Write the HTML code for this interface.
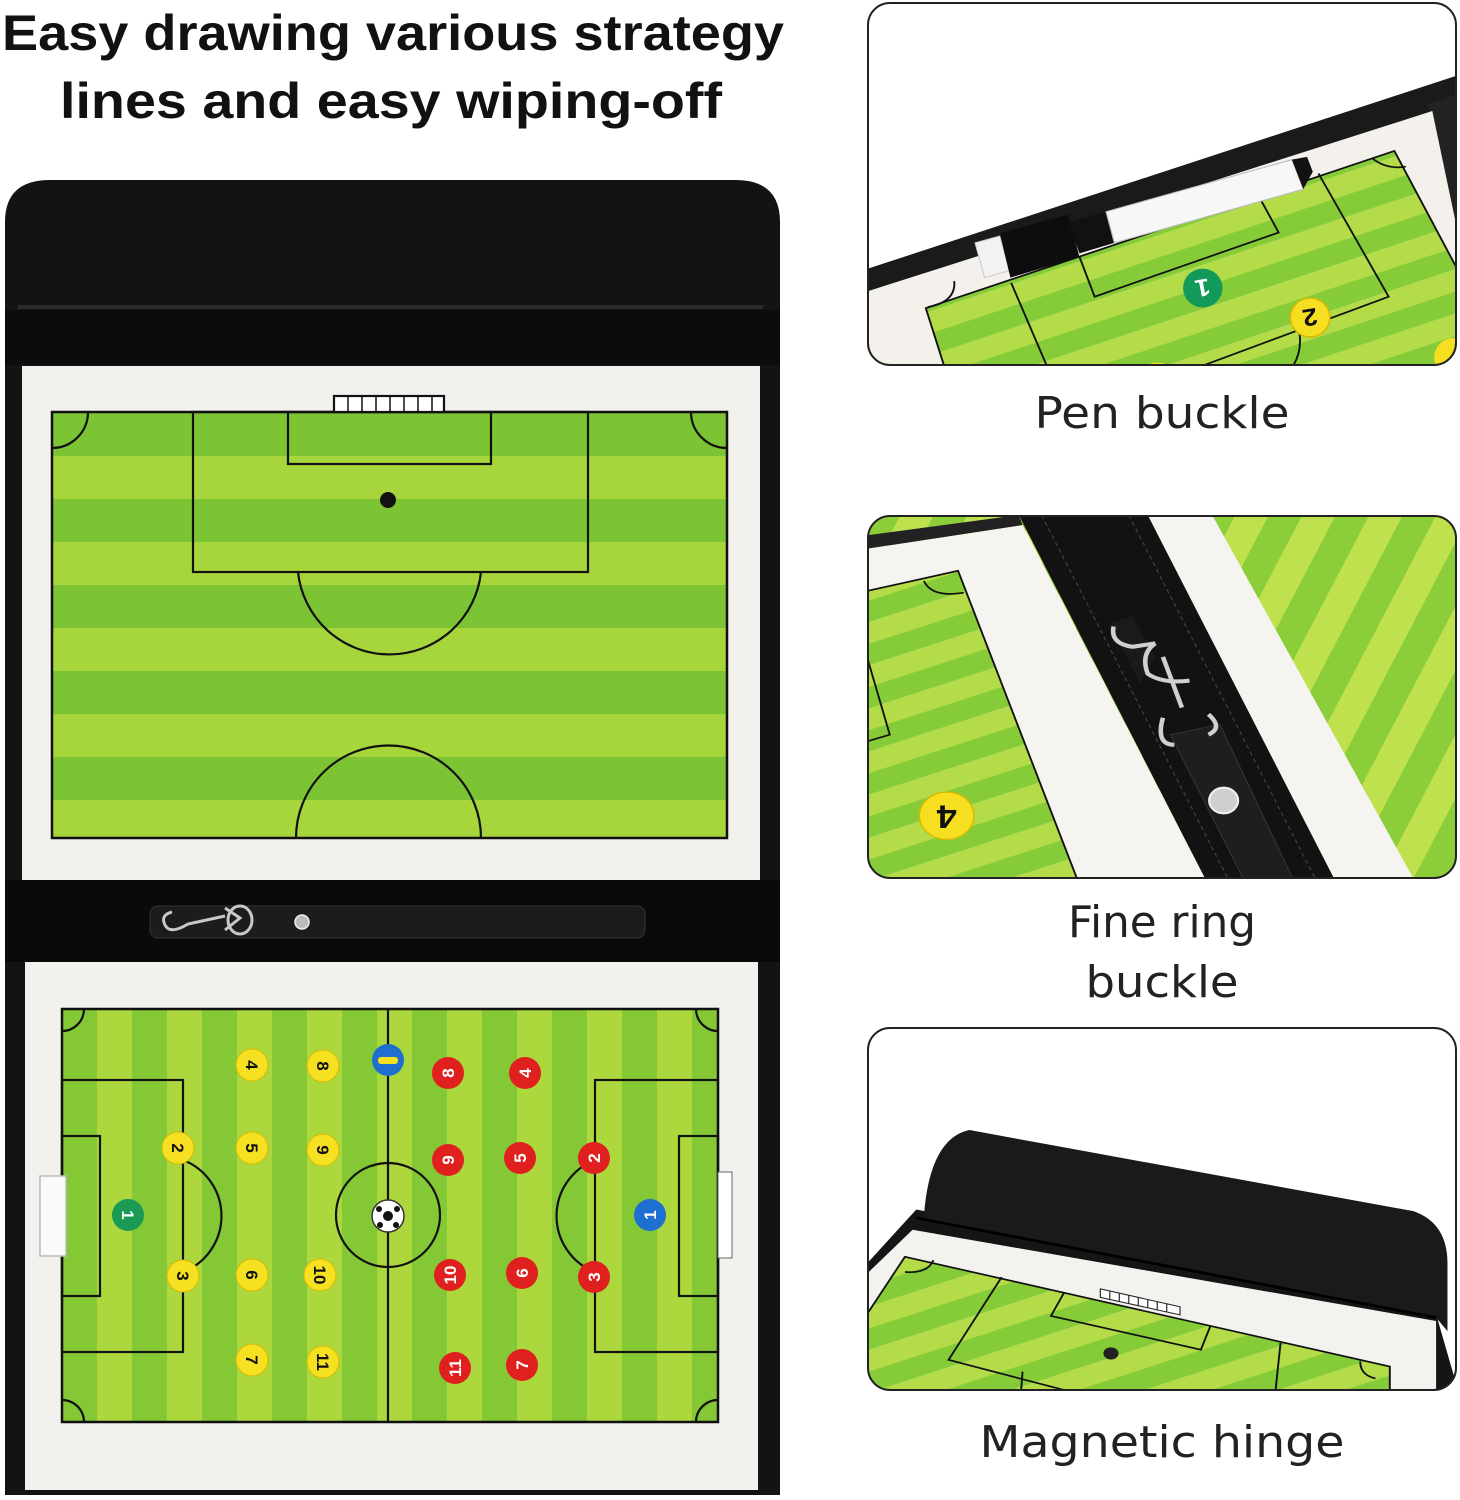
<!DOCTYPE html>
<html><head><meta charset="utf-8"><style>
html,body{margin:0;padding:0;background:#fff;}
svg{display:block;}
</style></head><body>
<svg width="1460" height="1500" viewBox="0 0 1460 1500" xmlns="http://www.w3.org/2000/svg">
<defs>
  <pattern id="hstr" x="0" y="413" width="10" height="86" patternUnits="userSpaceOnUse">
    <rect width="10" height="43" fill="#7cc434"/><rect y="43" width="10" height="43" fill="#a6d53c"/>
  </pattern>
  <pattern id="vstr" x="62" y="0" width="70" height="10" patternUnits="userSpaceOnUse">
    <rect width="35" height="10" fill="#84c935"/><rect x="35" width="35" height="10" fill="#acd83e"/>
  </pattern>
  <pattern id="dstr" x="0" y="0" width="120" height="120" patternUnits="userSpaceOnUse" patternTransform="rotate(-20)">
    <rect width="120" height="60" fill="#86cc38"/><rect y="60" width="120" height="60" fill="#b4dc48"/>
  </pattern>
  <pattern id="dstr2" x="0" y="0" width="160" height="160" patternUnits="userSpaceOnUse" patternTransform="rotate(-65)">
    <rect width="160" height="80" fill="#8ccd3a"/><rect y="80" width="160" height="80" fill="#bfe14e"/>
  </pattern>
  <clipPath id="c1"><rect x="868" y="3" width="588" height="362" rx="22"/></clipPath>
  <clipPath id="c2"><rect x="868" y="516" width="588" height="362" rx="22"/></clipPath>
  <clipPath id="c3"><rect x="868" y="1028" width="588" height="362" rx="22"/></clipPath>
</defs>

<!-- Title -->
<g font-family="Liberation Sans, sans-serif" font-weight="bold" fill="#111" font-size="50">
  <text x="2" y="50" textLength="782" lengthAdjust="spacingAndGlyphs">Easy drawing various strategy</text>
  <text x="60" y="118" textLength="662" lengthAdjust="spacingAndGlyphs">lines and easy wiping-off</text>
</g>

<!-- Folder -->
<path d="M5 1495 V222 Q5 180 50 180 H735 Q780 180 780 222 V1495 Z" fill="#131313"/>
<rect x="18" y="305" width="745" height="4" fill="#2a2a2a"/>
<rect x="5" y="310" width="775" height="55" fill="#0c0c0c"/>
<!-- Top board -->
<rect x="22" y="366" width="738" height="514" fill="#f3f1ee"/>
<rect x="52" y="412" width="675" height="426" fill="url(#hstr)" stroke="#111" stroke-width="2.5"/>
<g fill="none" stroke="#111" stroke-width="2.2">
  <rect x="193" y="412" width="395" height="160"/>
  <rect x="288" y="412" width="203" height="52"/>
  <path d="M298 572 A92 92 0 0 0 481 572"/>
  <path d="M296 838 A92 92 0 0 1 481 838"/>
  <path d="M52 448 A36 36 0 0 0 88 412"/>
  <path d="M727 448 A36 36 0 0 1 691 412"/>
  <rect x="334" y="396" width="110" height="16" fill="#fff"/>
  <path d="M348 396V412M362 396V412M376 396V412M390 396V412M404 396V412M418 396V412M432 396V412" stroke-width="1.5"/>
</g>
<circle cx="388" cy="500" r="8" fill="#111"/>

<!-- Middle band with strap -->
<rect x="5" y="880" width="775" height="82" fill="#0a0a0a"/>
<rect x="150" y="906" width="495" height="32" rx="8" fill="#1c1c1c" stroke="#333" stroke-width="1"/>
<g fill="none" stroke="#c8c8c8" stroke-width="3">
  <path d="M172 912 Q160 915 165 925 Q170 935 188 924 L225 916"/>
  <path d="M225 908 L240 918 L225 930"/>
  <ellipse cx="240" cy="920" rx="12" ry="14"/>
</g>
<circle cx="302" cy="922" r="7" fill="#bbb" stroke="#eee" stroke-width="1.5"/>

<!-- Lower board -->
<rect x="25" y="962" width="733" height="528" fill="#f3f1ee"/>
<rect x="62" y="1009" width="656" height="413" fill="url(#vstr)" stroke="#111" stroke-width="2.5"/>
<g fill="none" stroke="#111" stroke-width="2.2">
  <line x1="388" y1="1009" x2="388" y2="1422"/>
  <circle cx="388" cy="1215" r="52"/>
  <rect x="62" y="1080" width="121" height="272"/>
  <rect x="62" y="1136" width="38" height="160"/>
  <path d="M183 1160 A60 60 0 0 1 183 1272"/>
  <rect x="595" y="1080" width="123" height="272"/>
  <rect x="679" y="1136" width="39" height="160"/>
  <path d="M595 1160 A60 60 0 0 0 595 1272"/>
  <path d="M62 1031 A22 22 0 0 0 84 1009"/>
  <path d="M718 1031 A22 22 0 0 1 696 1009"/>
  <path d="M62 1400 A22 22 0 0 1 84 1422"/>
  <path d="M718 1400 A22 22 0 0 0 696 1422"/>
</g>
<rect x="40" y="1176" width="26" height="80" fill="#fafafa" stroke="#bbb" stroke-width="1.5"/>
<rect x="718" y="1172" width="14" height="86" fill="#fff" stroke="#666" stroke-width="1"/>

<!-- players -->
<g font-family="Liberation Sans, sans-serif" font-weight="bold" font-size="17" text-anchor="middle">
  <g fill="#f6e022" stroke="#d7b800" stroke-width="1">
    <circle cx="252" cy="1065" r="16"/><circle cx="323" cy="1066" r="16"/>
    <circle cx="178" cy="1148" r="16"/><circle cx="252" cy="1148" r="16"/><circle cx="323" cy="1150" r="16"/>
    <circle cx="183" cy="1276" r="16"/><circle cx="252" cy="1275" r="16"/><circle cx="320" cy="1275" r="16"/>
    <circle cx="252" cy="1360" r="16"/><circle cx="323" cy="1362" r="16"/>
  </g>
  <g fill="#111">
    <text transform="translate(252,1065) rotate(90)" y="6">4</text>
    <text transform="translate(323,1066) rotate(90)" y="6">8</text>
    <text transform="translate(178,1148) rotate(90)" y="6">2</text>
    <text transform="translate(252,1148) rotate(90)" y="6">5</text>
    <text transform="translate(323,1150) rotate(90)" y="6">9</text>
    <text transform="translate(183,1276) rotate(90)" y="6">3</text>
    <text transform="translate(252,1275) rotate(90)" y="6">6</text>
    <text transform="translate(320,1275) rotate(90)" y="6">10</text>
    <text transform="translate(252,1360) rotate(90)" y="6">7</text>
    <text transform="translate(323,1362) rotate(90)" y="6">11</text>
  </g>
  <g fill="#e0201e">
    <circle cx="448" cy="1073" r="16"/><circle cx="525" cy="1073" r="16"/>
    <circle cx="448" cy="1160" r="16"/><circle cx="520" cy="1158" r="16"/><circle cx="594" cy="1158" r="16"/>
    <circle cx="450" cy="1275" r="16"/><circle cx="522" cy="1273" r="16"/><circle cx="594" cy="1277" r="16"/>
    <circle cx="455" cy="1368" r="16"/><circle cx="522" cy="1365" r="16"/>
  </g>
  <g fill="#fff">
    <text transform="translate(448,1073) rotate(-90)" y="6">8</text>
    <text transform="translate(525,1073) rotate(-90)" y="6">4</text>
    <text transform="translate(448,1160) rotate(-90)" y="6">9</text>
    <text transform="translate(520,1158) rotate(-90)" y="6">5</text>
    <text transform="translate(594,1158) rotate(-90)" y="6">2</text>
    <text transform="translate(450,1275) rotate(-90)" y="6">10</text>
    <text transform="translate(522,1273) rotate(-90)" y="6">6</text>
    <text transform="translate(594,1277) rotate(-90)" y="6">3</text>
    <text transform="translate(455,1368) rotate(-90)" y="6">11</text>
    <text transform="translate(522,1365) rotate(-90)" y="6">7</text>
  </g>
  <circle cx="388" cy="1060" r="16" fill="#1f6fd0"/>
  <rect x="378" y="1057" width="20" height="7" rx="3" fill="#f6e022"/>
  <circle cx="650" cy="1215" r="16" fill="#1f6fd0"/>
  <text transform="translate(650,1215) rotate(-90)" y="6" fill="#fff">1</text>
  <circle cx="128" cy="1215" r="16" fill="#1a9a55"/>
  <text transform="translate(128,1215) rotate(90)" y="6" fill="#fff">1</text>
  <circle cx="388" cy="1216" r="16" fill="#fff" stroke="#333" stroke-width="1.5"/>
  <circle cx="388" cy="1216" r="5" fill="#111"/>
  <circle cx="379" cy="1209" r="3" fill="#111"/><circle cx="397" cy="1209" r="3" fill="#111"/>
  <circle cx="380" cy="1225" r="3" fill="#111"/><circle cx="396" cy="1225" r="3" fill="#111"/>
</g>

<!-- Panel 1: Pen buckle -->
<g clip-path="url(#c1)">
<rect x="868" y="3" width="588" height="362" fill="#fff"/>
<svg x="867" y="0" width="593" height="380" viewBox="0 0 1563 1095" preserveAspectRatio="none">
  <polygon points="0,775 1563,215 1563,300 0,840" fill="#1a1a1a"/>
  <polygon points="1480,300 1563,270 1563,700 1500,720" fill="#222"/>
  <polygon points="0,840 1490,320 1563,700 1563,1095 0,1095" fill="#f4f1ec"/>
  <polygon points="155,888 1390,435 1563,790 1563,1095 215,1095" fill="url(#dstr)" stroke="#111" stroke-width="5"/>
  <g fill="none" stroke="#111" stroke-width="5">
    <polyline points="380,815 490,1095"/>
    <polyline points="1190,500 1375,855 820,1080"/>
    <polyline points="560,740 600,855 1085,670 1035,570"/>
    <path d="M160,885 Q235,870 230,810" />
    <path d="M1330,455 Q1370,490 1420,480"/>
    <path d="M1140,960 Q1150,1040 1090,1095"/>
  </g>
  <polygon points="285,700 350,680 375,780 310,800" fill="#f2f2f2" stroke="#ccc" stroke-width="3"/>
  <polygon points="350,672 530,618 560,740 378,800" fill="#0d0d0d"/>
  <polygon points="530,640 630,610 652,700 560,730" fill="#111"/>
  <polygon points="630,610 1120,460 1150,545 652,700" fill="#f7f7f7" stroke="#bbb" stroke-width="3"/>
  <polygon points="1120,460 1160,452 1175,495 1150,545" fill="#111"/>
  <ellipse cx="885" cy="830" rx="52" ry="56" fill="#139a5a"/>
  <text x="885" y="855" font-family="Liberation Sans, sans-serif" font-weight="bold" font-size="70" fill="#fff" text-anchor="middle" transform="rotate(170 885 830)">1</text>
  <ellipse cx="1168" cy="915" rx="52" ry="56" fill="#f6df20" stroke="#d9b800" stroke-width="4"/>
  <text x="1168" y="940" font-family="Liberation Sans, sans-serif" font-weight="bold" font-size="70" fill="#111" text-anchor="middle" transform="rotate(170 1168 915)">2</text>
  <ellipse cx="765" cy="1090" rx="52" ry="45" fill="#f6df20"/>
  <ellipse cx="1545" cy="1030" rx="50" ry="56" fill="#f6df20"/>
</svg>
</g>
<rect x="868" y="3" width="588" height="362" rx="22" fill="none" stroke="#222" stroke-width="2"/>

<!-- Panel 2: Fine ring buckle -->
<g clip-path="url(#c2)">
<svg x="867" y="515" width="593" height="370" viewBox="0 0 1563 1095" preserveAspectRatio="none">
  <rect width="1563" height="1095" fill="url(#dstr2)"/>
  <polygon points="0,60 400,0 410,30 0,100" fill="#222"/>
  <polygon points="0,100 410,30 900,1095 0,1095" fill="#f6f4f0"/>
  <polygon points="0,225 240,165 560,1095 0,1095" fill="url(#dstr)"/>
  <g fill="none" stroke="#111" stroke-width="5">
    <polyline points="0,225 240,165 560,1095"/>
    <path d="M150,195 Q170,245 255,230"/>
    <polyline points="0,420 60,650 0,670"/>
    <path d="M1290,760 Q1400,730 1563,760"/>
    <line x1="1290" y1="760" x2="1420" y2="1095"/>
  </g>
  <polygon points="400,0 740,0 1240,1095 900,1095" fill="#121212"/>
  <polygon points="740,0 910,0 1450,1095 1240,1095" fill="#f6f4f0"/>
  <polygon points="910,0 1563,0 1563,1095 1450,1095" fill="url(#dstr2)"/>
  <g fill="none" stroke="#444" stroke-width="3" stroke-dasharray="12 10">
    <line x1="460" y1="0" x2="960" y2="1095"/>
    <line x1="690" y1="0" x2="1190" y2="1095"/>
  </g>
  <polygon points="640,320 700,300 760,420 720,500" fill="#1a1a1a"/>
  <polygon points="800,650 930,620 1130,1095 1000,1095" fill="#1e1e1e" stroke="#333" stroke-width="3"/>
  <g fill="none" stroke="#d0d0d0" stroke-width="12">
    <path d="M650,330 Q640,380 700,390 L760,380"/>
    <path d="M760,380 Q720,410 740,470 Q780,500 850,490"/>
    <line x1="780" y1="420" x2="830" y2="570"/>
    <path d="M780,600 Q760,680 810,680 M900,590 Q940,630 900,650"/>
  </g>
  <circle cx="940" cy="845" r="38" fill="#cfcfcf" stroke="#eee" stroke-width="6"/>
  <ellipse cx="210" cy="890" rx="72" ry="70" fill="#f6df20" stroke="#d9b800" stroke-width="4"/>
  <text x="210" y="920" font-family="Liberation Sans, sans-serif" font-weight="bold" font-size="95" fill="#111" text-anchor="middle" transform="rotate(180 210 890)">4</text>
</svg>
</g>
<rect x="868" y="516" width="588" height="362" rx="22" fill="none" stroke="#222" stroke-width="2"/>

<!-- Panel 3: Magnetic hinge -->
<g clip-path="url(#c3)">
<rect x="868" y="1028" width="588" height="362" fill="#fff"/>
<svg x="867" y="1027" width="593" height="370" viewBox="0 0 1563 1095" preserveAspectRatio="none">
  <polygon points="0,700 130,540 1500,850 1563,1095 0,1095" fill="#151515"/>
  <polygon points="120,600 1500,870 1500,1095 0,1095 0,730" fill="#f4f2ee"/>
  <polygon points="100,680 1378,1005 1378,1095 0,1095 0,850" fill="url(#dstr)" stroke="#111" stroke-width="5"/>
  <g fill="none" stroke="#111" stroke-width="5">
    <polyline points="355,740 215,985 590,1095"/>
    <polyline points="520,785 485,855 880,955 905,885"/>
    <polyline points="1090,935 1075,1095"/>
    <path d="M100,725 Q160,730 175,690"/>
    <path d="M1300,990 Q1300,1030 1340,1040"/>
    <line x1="410" y1="1020" x2="405" y2="1095"/>
  </g>
  <g fill="#fff" stroke="#222" stroke-width="3">
    <polygon points="615,775 825,828 825,852 615,800"/>
  </g>
  <g stroke="#222" stroke-width="3">
    <line x1="640" y1="781" x2="640" y2="806"/><line x1="665" y1="787" x2="665" y2="812"/>
    <line x1="690" y1="794" x2="690" y2="818"/><line x1="715" y1="800" x2="715" y2="824"/>
    <line x1="740" y1="806" x2="740" y2="831"/><line x1="765" y1="813" x2="765" y2="837"/>
    <line x1="790" y1="819" x2="790" y2="843"/>
  </g>
  <ellipse cx="643" cy="966" rx="20" ry="18" fill="#222"/>
  <path d="M150,560 Q165,330 270,305 L1440,545 Q1530,580 1530,700 L1530,900 L1500,860 L150,570 Z" fill="#1a1a1a"/>
  <path d="M130,565 L1500,860" stroke="#000" stroke-width="8"/>
</svg>
</g>
<rect x="868" y="1028" width="588" height="362" rx="22" fill="none" stroke="#222" stroke-width="2"/>

<!-- Labels -->
<g font-family="DejaVu Sans, Liberation Sans, sans-serif" fill="#222" font-size="44" text-anchor="middle">
  <text x="1162" y="428" textLength="255" lengthAdjust="spacingAndGlyphs">Pen buckle</text>
  <text x="1162" y="937" textLength="188" lengthAdjust="spacingAndGlyphs">Fine ring</text>
  <text x="1162" y="997" textLength="153" lengthAdjust="spacingAndGlyphs">buckle</text>
  <text x="1162" y="1457" textLength="365" lengthAdjust="spacingAndGlyphs">Magnetic hinge</text>
</g>
</svg>
</body></html>
